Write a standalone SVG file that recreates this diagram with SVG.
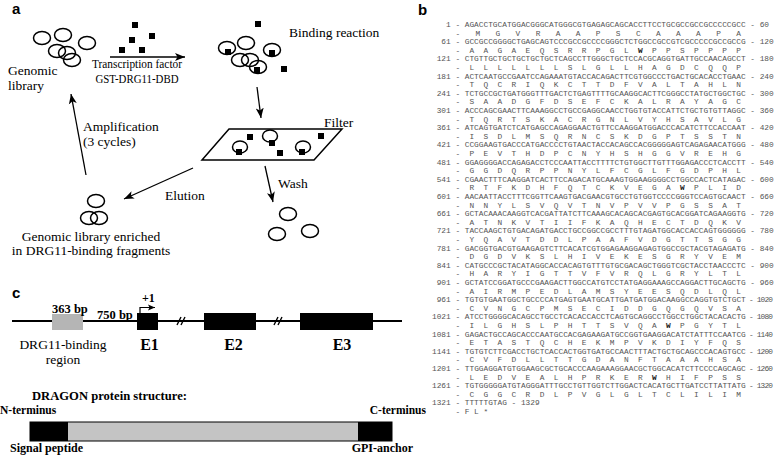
<svg xmlns="http://www.w3.org/2000/svg" width="774" height="455" viewBox="0 0 774 455">
<defs>
<style>
.lbl{font-family:"Liberation Sans",Arial,sans-serif;font-weight:bold;font-size:15px;fill:#000}
.t{font-family:"Liberation Serif","Times New Roman",serif;font-size:13.5px;fill:#000}
.tb{font-family:"Liberation Serif","Times New Roman",serif;font-weight:bold;fill:#000}
.e{fill:none;stroke:#000;stroke-width:1.5}
.sq{fill:#000}
.ar{fill:none;stroke:#000;stroke-width:1.3;marker-end:url(#ah)}
.seq{font-family:"Liberation Mono","Courier New",monospace;font-size:7.8px;fill:#555;white-space:pre}
.w{font-weight:bold;fill:#222}
</style>
<marker id="ah" markerUnits="userSpaceOnUse" markerWidth="11" markerHeight="9" refX="10" refY="4.5" orient="auto"><path d="M0,0.5 L10,4.5 L0,8.5 L2.5,4.5 z" fill="#000"/></marker>
<marker id="ah2" markerUnits="userSpaceOnUse" markerWidth="8" markerHeight="7" refX="7" refY="3.5" orient="auto"><path d="M0,0.5 L7,3.5 L0,6.5 L1.5,3.5 z" fill="#000"/></marker>
</defs>
<rect width="774" height="455" fill="#fff"/>

<text class="lbl" x="12" y="14">a</text>
<text class="lbl" x="418" y="15">b</text>
<text class="lbl" x="12" y="298">c</text>

<!-- Panel a nodes -->
<g id="n-genomic">
<ellipse class="e" cx="42" cy="38" rx="8.5" ry="6.5"/>
<ellipse class="e" cx="63" cy="35" rx="8.5" ry="6.5"/>
<ellipse class="e" cx="87" cy="43" rx="8.5" ry="6.5"/>
<ellipse class="e" cx="57" cy="51" rx="8.5" ry="6.5"/>
<ellipse class="e" cx="67" cy="53" rx="8.5" ry="6.5"/>
<ellipse class="e" cx="72" cy="60" rx="8.5" ry="6.5"/>
<text class="t" x="8" y="75">Genomic</text>
<text class="t" x="8" y="90">library</text>
</g>
<g id="n-tf">
<rect class="sq" x="132" y="22" width="6" height="6"/>
<rect class="sq" x="149" y="33" width="6" height="6"/>
<rect class="sq" x="129" y="37" width="6" height="6"/>
<rect class="sq" x="119" y="47" width="6" height="6"/>
<rect class="sq" x="139" y="47" width="6" height="6"/>
</g>
<g id="n-binding">
<ellipse class="e" cx="227" cy="48" rx="8.5" ry="6.5"/>
<ellipse class="e" cx="246" cy="43" rx="8.5" ry="6.5"/>
<ellipse class="e" cx="272" cy="50" rx="8.5" ry="6.5"/>
<ellipse class="e" cx="240" cy="60" rx="8.5" ry="6.5"/>
<ellipse class="e" cx="250" cy="60" rx="8.5" ry="6.5"/>
<ellipse class="e" cx="258" cy="67" rx="8.5" ry="6.5"/>
<rect class="sq" x="225" y="49" width="6" height="6"/>
<rect class="sq" x="269" y="50" width="6" height="6"/>
<rect class="sq" x="254" y="67" width="6" height="6"/>
<rect class="sq" x="255" y="21" width="6" height="6"/>
<rect class="sq" x="281" y="66" width="6" height="6"/>
<text class="t" x="289" y="37">Binding reaction</text>
</g>
<g id="n-filter">
<polygon points="229,129 342,129 314,160 202,160" fill="none" stroke="#000" stroke-width="1.5"/>
<rect class="sq" x="247" y="134" width="6" height="6"/>
<ellipse class="e" cx="270" cy="136" rx="7.5" ry="6"/>
<rect class="sq" x="269" y="140" width="6" height="6"/>
<rect class="sq" x="318" y="133" width="6" height="6"/>
<ellipse class="e" cx="240" cy="147" rx="7.5" ry="6"/>
<rect class="sq" x="236" y="149" width="6" height="6"/>
<ellipse class="e" cx="303" cy="147" rx="7.5" ry="6"/>
<rect class="sq" x="299" y="149" width="6" height="6"/>
<rect class="sq" x="277" y="150" width="6" height="6"/>
<text class="t" x="324" y="127">Filter</text>
</g>
<g id="n-wash">
<ellipse class="e" cx="288" cy="214" rx="8.5" ry="6.5"/>
<ellipse class="e" cx="277" cy="234" rx="8.5" ry="6.5"/>
<ellipse class="e" cx="310" cy="231" rx="8.5" ry="6.5"/>
</g>
<g id="n-enriched">
<ellipse class="e" cx="96" cy="201" rx="8.5" ry="6.5"/>
<ellipse class="e" cx="89" cy="218" rx="8.5" ry="6.5"/>
<ellipse class="e" cx="99" cy="218" rx="8.5" ry="6.5"/>
<text class="t" x="91" y="241" font-size="13" text-anchor="middle">Genomic library enriched</text>
<text class="t" x="91" y="255" font-size="13" text-anchor="middle">in DRG11-binding fragments</text>
</g>

<g id="connectors">
<path class="ar" d="M110,57 H185"/>
<path class="ar" d="M257,87 L261,118"/>
<path class="ar" d="M265,166 L273,202"/>
<path class="ar" d="M193,168 L124,199"/>
<path class="ar" d="M86,175 L71,94"/>
<text class="t" x="137" y="68" text-anchor="middle" textLength="90" lengthAdjust="spacingAndGlyphs">Transcription factor</text>
<text class="t" x="137" y="83" text-anchor="middle" textLength="83" lengthAdjust="spacingAndGlyphs">GST-DRG11-DBD</text>
<text class="t" x="83" y="131">Amplification</text>
<text class="t" x="83" y="146">(3 cycles)</text>
<text class="t" x="165" y="200">Elution</text>
<text class="t" x="278" y="188">Wash</text>
</g>

<!-- Panel c -->
<g id="gene">
<path d="M12,321 H402" stroke="#000" stroke-width="2"/>
<rect x="52" y="314" width="31" height="16" fill="#b5b5b5"/>
<rect x="137" y="313" width="21" height="17" fill="#000"/>
<rect x="204" y="313" width="52" height="17" fill="#000"/>
<rect x="300" y="313" width="73" height="17" fill="#000"/>
<path d="M177,325 L181,317 M181,325 L185,317 M274,325 L278,317 M278,325 L282,317" stroke="#000" stroke-width="1.4"/>
<path d="M140,313 V307.5 H155" fill="none" stroke="#000" stroke-width="1.2" marker-end="url(#ah2)"/>
<text class="tb" x="142" y="302" font-size="12">+1</text>
<text class="tb" x="52" y="313" font-size="12.5">363 bp</text>
<text class="tb" x="97" y="319" font-size="12.5">750 bp</text>
<text class="t" x="63" y="349" text-anchor="middle">DRG11-binding</text>
<text class="t" x="63" y="364" text-anchor="middle">region</text>
<text class="tb" x="149.5" y="350" font-size="16" text-anchor="middle">E1</text>
<text class="tb" x="233.5" y="350" font-size="16" text-anchor="middle">E2</text>
<text class="tb" x="342" y="350" font-size="16" text-anchor="middle">E3</text>
</g>
<g id="protein">
<text class="tb" x="32" y="400" font-size="13" textLength="155" lengthAdjust="spacingAndGlyphs">DRAGON protein structure:</text>
<text class="tb" x="0" y="414" font-size="11.5">N-terminus</text>
<text class="tb" x="426" y="414" font-size="11.5" text-anchor="end">C-terminus</text>
<rect x="30" y="422" width="362" height="19" fill="#c4c4c4" stroke="#000" stroke-width="1"/>
<rect x="30" y="422" width="38" height="19" fill="#000"/>
<rect x="358" y="422" width="34" height="19" fill="#000"/>
<text class="tb" x="10" y="452" font-size="12">Signal peptide</text>
<text class="tb" x="413" y="452" font-size="12" text-anchor="end">GPI-anchor</text>
</g>

<!-- Panel b sequence -->
<g id="sequence" class="seq" xml:space="preserve">
<text x="450.7" y="27" text-anchor="end">1</text><text x="455.4" y="27" textLength="313.6">- AGACCTGCATGGACGGGCATGGGCGTGAGAGCAGCACCTTCCTGCGCCGCCGCCCCCGCC - 60</text>
<text x="455.4" y="35.6" textLength="285.5">-                    M  G  V  R  A  A  P  S  C  A  A  A  P  A</text>
<text x="450.7" y="44.2" text-anchor="end">61</text><text x="455.4" y="44.2" textLength="318.3">- GCCGCCGGGGCTGAGCAGTCCCGCCGCCCCGGGCTCTGGCCGCCGTCGCCCCCGCCGCCG - 120</text>
<text x="455.4" y="52.8" textLength="285.5">-  A  A  G  A  E  Q  S  R  R  P  G  L  <tspan class="w">W</tspan>  P  P  S  P  P  P  P</text>
<text x="450.7" y="61.4" text-anchor="end">121</text><text x="455.4" y="61.4" textLength="318.3">- CTGTTGCTGCTGCTGCTGCTCAGCCTTGGGCTGCTCCACGCAGGTGATTGCCAACAGCCT - 180</text>
<text x="455.4" y="70" textLength="285.5">-  L  L  L  L  L  L  L  S  L  G  L  L  H  A  G  D  C  Q  Q  P</text>
<text x="450.7" y="78.6" text-anchor="end">181</text><text x="455.4" y="78.6" textLength="318.3">- ACTCAATGCCGAATCCAGAAATGTACCACAGACTTCGTGGCCCTGACTGCACACCTGAAC - 240</text>
<text x="455.4" y="87.2" textLength="285.5">-  T  Q  C  R  I  Q  K  C  T  T  D  F  V  A  L  T  A  H  L  N</text>
<text x="450.7" y="95.8" text-anchor="end">241</text><text x="455.4" y="95.8" textLength="318.3">- TCTGCCGCTGATGGGTTTGACTCTGAGTTTTGCAAGGCACTTCGGGCCTATGCTGGCTGC - 300</text>
<text x="455.4" y="104.4" textLength="285.5">-  S  A  A  D  G  F  D  S  E  F  C  K  A  L  R  A  Y  A  G  C</text>
<text x="450.7" y="113" text-anchor="end">301</text><text x="455.4" y="113" textLength="318.3">- ACCCAGCGAACTTCAAAGGCCTGCCGAGGCAACCTGGTGTACCATTCTGCTGTGTTAGGC - 360</text>
<text x="455.4" y="121.6" textLength="285.5">-  T  Q  R  T  S  K  A  C  R  G  N  L  V  Y  H  S  A  V  L  G</text>
<text x="450.7" y="130.2" text-anchor="end">361</text><text x="455.4" y="130.2" textLength="318.3">- ATCAGTGATCTCATGAGCCAGAGGAACTGTTCCAAGGATGGACCCACATCTTCCACCAAT - 420</text>
<text x="455.4" y="138.8" textLength="285.5">-  I  S  D  L  M  S  Q  R  N  C  S  K  D  G  P  T  S  S  T  N</text>
<text x="450.7" y="147.4" text-anchor="end">421</text><text x="455.4" y="147.4" textLength="318.3">- CCGGAAGTGACCCATGACCCCTGTAACTACCACAGCCACGGGGGAGTCAGAGAACATGGG - 480</text>
<text x="455.4" y="156" textLength="285.5">-  P  E  V  T  H  D  P  C  N  Y  H  S  H  G  G  V  R  E  H  G</text>
<text x="450.7" y="164.6" text-anchor="end">481</text><text x="455.4" y="164.6" textLength="318.3">- GGAGGGGACCAGAGACCTCCCAATTACCTTTTCTGTGGCTTGTTTGGAGACCCTCACCTT - 540</text>
<text x="455.4" y="173.2" textLength="285.5">-  G  G  D  Q  R  P  P  N  Y  L  F  C  G  L  F  G  D  P  H  L</text>
<text x="450.7" y="181.8" text-anchor="end">541</text><text x="455.4" y="181.8" textLength="318.3">- CGAACTTTCAAGGATCACTTCCAGACATGCAAAGTGGAAGGGGCCTGGCCACTCATAGAC - 600</text>
<text x="455.4" y="190.4" textLength="285.5">-  R  T  F  K  D  H  F  Q  T  C  K  V  E  G  A  <tspan class="w">W</tspan>  P  L  I  D</text>
<text x="450.7" y="199" text-anchor="end">601</text><text x="455.4" y="199" textLength="318.3">- AACAATTACCTTTCGGTTCAAGTGACGAACGTGCCTGTGGTCCCCGGGTCCAGTGCAACT - 660</text>
<text x="455.4" y="207.6" textLength="285.5">-  N  N  Y  L  S  V  Q  V  T  N  V  P  V  V  P  G  S  S  A  T</text>
<text x="450.7" y="216.2" text-anchor="end">661</text><text x="455.4" y="216.2" textLength="318.3">- GCTACAAACAAGGTCACGATTATCTTCAAAGCACAGCACGAGTGCACGGATCAGAAGGTG - 720</text>
<text x="455.4" y="224.8" textLength="285.5">-  A  T  N  K  V  T  I  I  F  K  A  Q  H  E  C  T  D  Q  K  V</text>
<text x="450.7" y="233.4" text-anchor="end">721</text><text x="455.4" y="233.4" textLength="318.3">- TACCAAGCTGTGACAGATGACCTGCCGGCCGCCTTTGTAGATGGCACCACCAGTGGGGGG - 780</text>
<text x="455.4" y="242" textLength="285.5">-  Y  Q  A  V  T  D  D  L  P  A  A  F  V  D  G  T  T  S  G  G</text>
<text x="450.7" y="250.6" text-anchor="end">781</text><text x="455.4" y="250.6" textLength="318.3">- GACGGTGACGTGAAGAGTCTTCACATCGTGGAGAAGGAGAGTGGCCGCTACGTAGAGATG - 840</text>
<text x="455.4" y="259.2" textLength="285.5">-  D  G  D  V  K  S  L  H  I  V  E  K  E  S  G  R  Y  V  E  M</text>
<text x="450.7" y="267.8" text-anchor="end">841</text><text x="455.4" y="267.8" textLength="318.3">- CATGCCCGCTACATAGGCACCACAGTGTTTGTGCGACAGCTGGGTCGCTACCTAACCCTC - 900</text>
<text x="455.4" y="276.4" textLength="285.5">-  H  A  R  Y  I  G  T  T  V  F  V  R  Q  L  G  R  Y  L  T  L</text>
<text x="450.7" y="285" text-anchor="end">901</text><text x="455.4" y="285" textLength="318.3">- GCTATCCGGATGCCCGAAGACTTGGCCATGTCCTATGAGGAAAGCCAGGACTTGCAGCTG - 960</text>
<text x="455.4" y="293.6" textLength="285.5">-  A  I  R  M  P  E  D  L  A  M  S  Y  E  E  S  Q  D  L  Q  L</text>
<text x="450.7" y="302.2" text-anchor="end">961</text><text x="455.4" y="302.2" textLength="290.4">- TGTGTGAATGGCTGCCCCATGAGTGAATGCATTGATGATGGACAAGGCCAGGTGTCTGCT</text><text x="773" y="302.2" text-anchor="end" textLength="24">- 1020</text>
<text x="455.4" y="310.8" textLength="285.5">-  C  V  N  G  C  P  M  S  E  C  I  D  D  G  Q  G  Q  V  S  A</text>
<text x="450.7" y="319.4" text-anchor="end">1021</text><text x="455.4" y="319.4" textLength="290.4">- ATCCTGGGGCACAGCCTGCCTCACACCACCTCAGTGCAGGCCTGGCCTGGCTACACACTG</text><text x="773" y="319.4" text-anchor="end" textLength="24">- 1080</text>
<text x="455.4" y="328" textLength="285.5">-  I  L  G  H  S  L  P  H  T  T  S  V  Q  A  <tspan class="w">W</tspan>  P  G  Y  T  L</text>
<text x="450.7" y="336.6" text-anchor="end">1081</text><text x="455.4" y="336.6" textLength="290.4">- GAGACTGCCAGCACCCAATGCCACGAGAAGATGCCGGTGAAGGACATCTATTTCCAATCG</text><text x="773" y="336.6" text-anchor="end" textLength="24">- 1140</text>
<text x="455.4" y="345.2" textLength="285.5">-  E  T  A  S  T  Q  C  H  E  K  M  P  V  K  D  I  Y  F  Q  S</text>
<text x="450.7" y="353.8" text-anchor="end">1141</text><text x="455.4" y="353.8" textLength="290.4">- TGTGTCTTCGACCTGCTCACCACTGGTGATGCCAACTTTACTGCTGCAGCCCACAGTGCC</text><text x="773" y="353.8" text-anchor="end" textLength="24">- 1200</text>
<text x="455.4" y="362.4" textLength="285.5">-  C  V  F  D  L  L  T  T  G  D  A  N  F  T  A  A  A  H  S  A</text>
<text x="450.7" y="371" text-anchor="end">1201</text><text x="455.4" y="371" textLength="290.4">- TTGGAGGATGTGGAAGCGCTGCACCCAAGAAAGGAACGCTGGCACATCTTCCCCAGCAGC</text><text x="773" y="371" text-anchor="end" textLength="24">- 1260</text>
<text x="455.4" y="379.6" textLength="285.5">-  L  E  D  V  E  A  L  H  P  R  K  E  R  <tspan class="w">W</tspan>  H  I  F  P  S  S</text>
<text x="450.7" y="388.2" text-anchor="end">1261</text><text x="455.4" y="388.2" textLength="290.4">- TGTGGGGGATGTAGGGATTTGCCTGTTGGTCTTGGACTCACATGCTTGATCCTTATTATG</text><text x="773" y="388.2" text-anchor="end" textLength="24">- 1320</text>
<text x="455.4" y="396.8" textLength="285.5">-  C  G  G  C  R  D  L  P  V  G  L  G  L  T  C  L  I  L  I  M</text>
<text x="450.7" y="405.4" text-anchor="end">1321</text><text x="455.4" y="405.4">- TTTTTGTAG - 1329</text>
<text x="455.4" y="414">-  F  L  *</text>
</g>
</svg>
